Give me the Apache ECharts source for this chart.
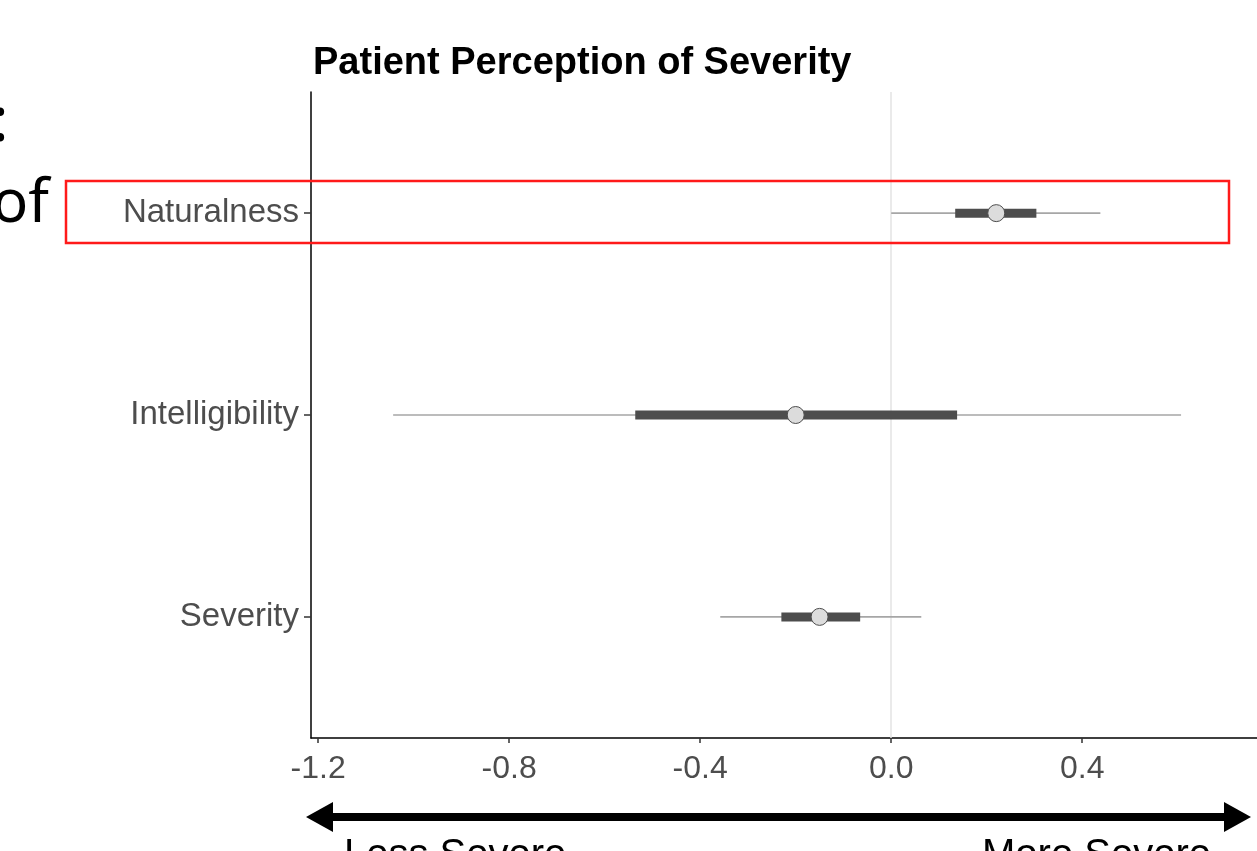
<!DOCTYPE html>
<html>
<head>
<meta charset="utf-8">
<script src="https://cdn.jsdelivr.net/npm/echarts@6/dist/echarts.min.js"></script>
<style>
  html, body { margin: 0; padding: 0; background: #fff; }
  #chart { width: 1257px; height: 851px; }
</style>
</head>
<body>
<div id="chart"></div>
<script>
// categories, bottom to top
var categories = ['Severity', 'Intelligibility', 'Naturalness'];
// point estimate and intervals (outer = thin line, inner = thick bar)
var estimates = [-0.15, -0.20, 0.22];
var outerLow = [-0.358, -1.043, 0.0];
var outerHigh = [0.063, 0.607, 0.438];
var innerLow = [-0.230, -0.536, 0.134];
var innerHigh = [-0.065, 0.138, 0.304];
var xTicks = [-1.2, -0.8, -0.4, 0.0, 0.4];

var rows = categories.map(function (c, i) {
  return [i + 1, outerLow[i], outerHigh[i], innerLow[i], innerHigh[i], estimates[i]];
});

var myChart = echarts.init(document.getElementById('chart'));

function renderInterval(params, api) {
  var y = api.value(0);
  var a = api.coord([api.value(1), y]);
  var b = api.coord([api.value(2), y]);
  var c = api.coord([api.value(3), y]);
  var d = api.coord([api.value(4), y]);
  var e = api.coord([api.value(5), y]);
  return {
    type: 'group',
    children: [
      { type: 'line', shape: { x1: a[0], y1: a[1], x2: b[0], y2: b[1] },
        style: { stroke: '#a6a6a6', lineWidth: 1.6 } },
      { type: 'rect', shape: { x: c[0], y: c[1] - 4.5, width: d[0] - c[0], height: 9 },
        style: { fill: '#4d4d4d' } },
      { type: 'circle', shape: { cx: e[0], cy: e[1], r: 8.5 },
        style: { fill: '#dcdcdc', stroke: '#4d4d4d', lineWidth: 1 } }
    ]
  };
}

myChart.setOption({
  animation: false,
  title: {
    text: 'Patient Perception of Severity',
    left: 308, top: 40,
    textStyle: { fontFamily: 'Liberation Sans', fontWeight: 'bold', fontSize: 38, color: '#000' }
  },
  grid: { left: 311, right: 0, top: 92, bottom: 113, outerBoundsMode: 'none' },
  xAxis: {
    type: 'value', min: -1.215, max: 0.766,
    axisLine: { onZero: false, lineStyle: { color: '#000', width: 1.5 } },
    axisTick: { show: true, length: 5, customValues: xTicks, lineStyle: { color: '#333', width: 1.5 } },
    axisLabel: {
      customValues: xTicks, margin: 15,
      fontFamily: 'Liberation Sans', fontSize: 32, color: '#4d4d4d',
      formatter: function (v) { return v.toFixed(1); }
    },
    splitLine: { show: false }
  },
  yAxis: {
    type: 'value', min: 0.4, max: 3.6,
    axisLine: { show: true, onZero: false, lineStyle: { color: '#000', width: 1.5 } },
    axisTick: { show: true, length: 7, customValues: [1, 2, 3], lineStyle: { color: '#333', width: 1.5 } },
    axisLabel: {
      customValues: [1, 2, 3], margin: 12,
      fontFamily: 'Liberation Sans', fontSize: 33, color: '#4d4d4d',
      formatter: function (v) { return categories[Math.round(v) - 1] || ''; }
    },
    splitLine: { show: false }
  },
  series: [
    {
      type: 'line', data: [], silent: true,
      markLine: {
        symbol: 'none', silent: true, label: { show: false },
        lineStyle: { color: '#e3e3e3', type: 'solid', width: 1.5 },
        data: [{ xAxis: 0 }]
      }
    },
    {
      type: 'custom',
      renderItem: renderInterval,
      encode: { x: [1, 2, 3, 4, 5], y: 0 },
      data: rows,
      z: 5
    }
  ],
  graphic: [
    // slide overlay: highlight box
    { type: 'rect', shape: { x: 66, y: 181, width: 1163, height: 62 },
      style: { fill: 'none', stroke: '#ff1a1a', lineWidth: 2.5 }, z: 10 },
    // cut-off slide text on the left
    { type: 'text', left: -8, top: 92,
      style: { text: ':', fontFamily: 'Noto Sans', fontSize: 62, fill: '#000' } },
    { type: 'text', left: -8, top: 175,
      style: { text: 'of', fontFamily: 'Noto Sans', fontSize: 60, fill: '#000' } },
    // double-headed arrow
    { type: 'rect', shape: { x: 325, y: 813, width: 905, height: 8 }, style: { fill: '#000' } },
    { type: 'polygon', shape: { points: [[306, 817], [333, 802], [333, 832]] }, style: { fill: '#000' } },
    { type: 'polygon', shape: { points: [[1251, 817], [1224, 802], [1224, 832]] }, style: { fill: '#000' } },
    { type: 'text', left: 344, top: 836,
      style: { text: 'Less Severe', fontFamily: 'Liberation Sans', fontSize: 40, fill: '#000' } },
    { type: 'text', left: 982, top: 836,
      style: { text: 'More Severe', fontFamily: 'Liberation Sans', fontSize: 40, fill: '#000' } }
  ]
});
</script>
</body>
</html>
